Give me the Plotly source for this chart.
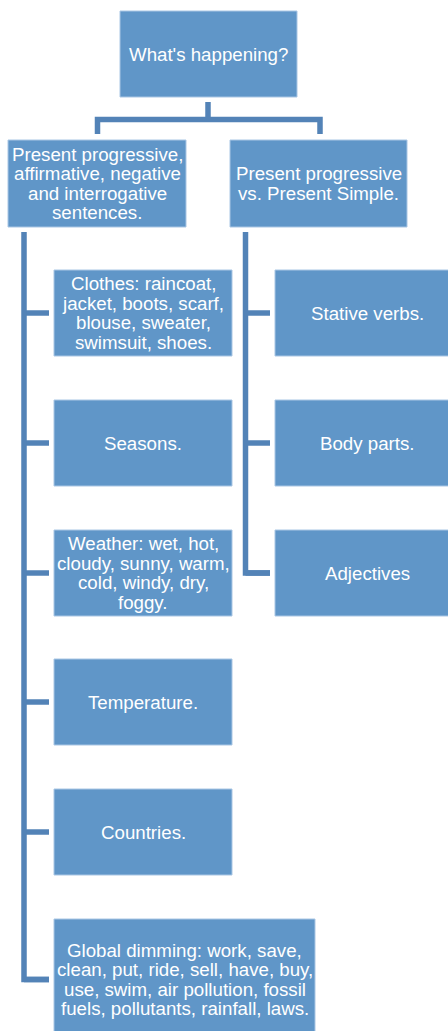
import plotly.graph_objects as go

# ---- data (hierarchy) ----
root_label = "What's happening?"
branch_labels = [
    "Present progressive,<br>affirmative, negative<br>and interrogative<br>sentences.",
    "Present progressive<br>vs. Present Simple.",
]
left_children = [
    "Clothes: raincoat,<br>jacket, boots, scarf,<br>blouse, sweater,<br>swimsuit, shoes.",
    "Seasons.",
    "Weather: wet, hot,<br>cloudy, sunny, warm,<br>cold, windy, dry,<br>foggy.",
    "Temperature.",
    "Countries.",
    "Global dimming: work, save,<br>clean, put, ride, sell, have, buy,<br>use, swim, air pollution, fossil<br>fuels, pollutants, rainfall, laws.",
]
right_children = ["Stative verbs.", "Body parts.", "Adjectives"]

# ---- styles / layout ----
W, H = 448, 1031
BOX = "#6096c8"
EDGE = "#a9c6e4"
LINE = "#5383b7"
LW = 5.5
FONT = dict(family="Liberation Sans, Arial, sans-serif", size=18.7, color="white")
LINE_GAP = 19.6

fig = go.Figure()
shapes, annots = [], []


def box(x0, y0, x1, y1, text, cy=None):
    shapes.append(dict(type="rect", x0=x0, y0=y0, x1=x1, y1=y1,
                       fillcolor=BOX, line=dict(color=EDGE, width=1), layer="below"))
    lines = text.split("<br>")
    n = len(lines)
    cx = (x0 + x1) / 2
    cy = (y0 + y1) / 2 if cy is None else cy
    for i, ln in enumerate(lines):
        annots.append(dict(x=cx, y=cy + (i - (n - 1) / 2) * LINE_GAP, text=ln,
                           showarrow=False, font=FONT, xanchor="center",
                           yanchor="middle", align="center"))


def line(pts):
    path = "M " + " L ".join(f"{x},{y}" for x, y in pts)
    shapes.append(dict(type="path", path=path, line=dict(color=LINE, width=LW),
                       layer="below"))


# root
box(120, 11, 297, 97, root_label)
# branch boxes
box(8, 140, 186, 227, branch_labels[0])
box(230, 140, 407, 227, branch_labels[1])
# root connectors
line([(208, 102), (208, 119.5)])
line([(97.5, 134), (97.5, 119.5), (320, 119.5), (320, 134)])

# left children
row_top = [270, 400, 530, 659, 789, 919]
for i, lab in enumerate(left_children):
    y0 = row_top[i]
    if i == len(left_children) - 1:
        box(54, y0, 315, 1040, lab, cy=979.5)
        cy = 979.5
    else:
        box(54, y0, 232, y0 + 86, lab)
        cy = y0 + 43
    line([(24, cy), (49, cy)])
line([(24, 232), (24, 979.5), (49, 979.5)])

# right children
for i, lab in enumerate(right_children):
    y0 = row_top[i]
    box(275, y0, 460, y0 + 86, lab)
    line([(245.5, y0 + 43), (270, y0 + 43)])
line([(245.5, 232), (245.5, 573), (270, 573)])

fig.update_layout(
    width=W, height=H, margin=dict(l=0, r=0, t=0, b=0),
    paper_bgcolor="white", plot_bgcolor="white",
    xaxis=dict(range=[0, W], visible=False, fixedrange=True),
    yaxis=dict(range=[H, 0], visible=False, fixedrange=True),
    shapes=shapes, annotations=annots, showlegend=False,
)
fig.write_html("out.html", config={"displayModeBar": False},
               post_script="document.body.style.margin='0px';"
                           "document.body.style.overflow='hidden';")
